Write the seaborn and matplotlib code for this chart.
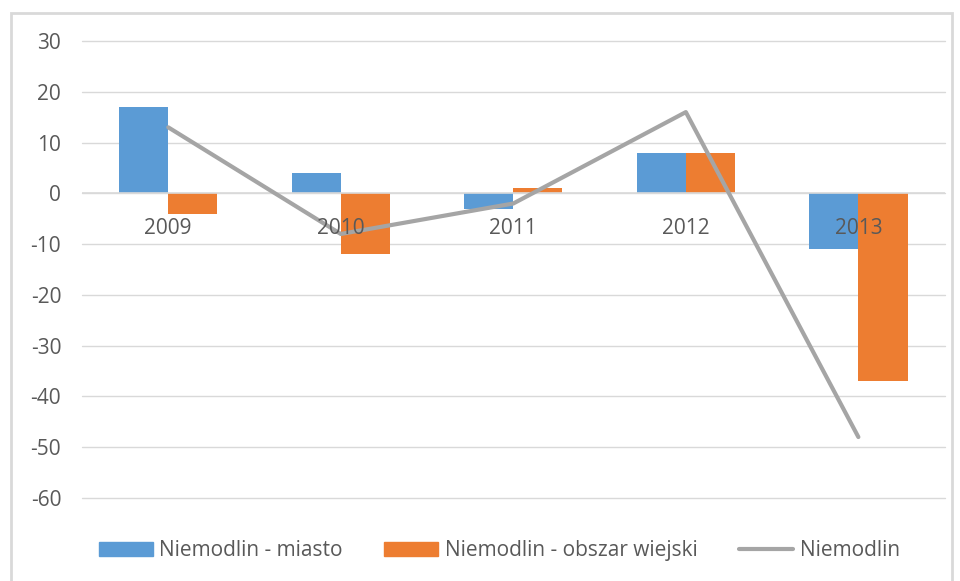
import numpy as np
import pandas as pd
import matplotlib.pyplot as plt
import seaborn as sns
from matplotlib.patches import Rectangle, Patch
from matplotlib.lines import Line2D

anos = ["2009", "2010", "2011", "2012", "2013"]
miasto = [17, 4, -3, 8, -11]
obszar_wiejski = [-4, -12, 1, 8, -37]
niemodlin = [13, -8, -2, 16, -48]
serie = ["Niemodlin - miasto", "Niemodlin - obszar wiejski"]
colores = {"Niemodlin - miasto": "#5b9bd5", "Niemodlin - obszar wiejski": "#ed7d31"}
color_linea = "#a5a5a5"

df = pd.DataFrame({
    "rok": anos * 2,
    "valor": miasto + obszar_wiejski,
    "serie": [serie[0]] * len(anos) + [serie[1]] * len(anos),
})

sns.set_style("white")
plt.rcParams['font.family'] = ['Open Sans', 'DejaVu Sans']
plt.rcParams['axes.unicode_minus'] = False
texto = "#595959"
fs = 15

fig = plt.figure(figsize=(9.6, 5.81), dpi=100)
ax = fig.add_axes([0.0854, 0.1429, 0.8986, 0.7865])

sns.barplot(data=df, x="rok", y="valor", hue="serie", hue_order=serie,
            palette=colores, width=0.57, saturation=1, linewidth=0,
            ax=ax, legend=False, zorder=3)
ax.axhline(0, color="#d9d9d9", linewidth=1.2, zorder=3.5)
sns.lineplot(x=np.arange(len(anos)), y=niemodlin, color=color_linea, linewidth=3,
             ax=ax, zorder=4)

ax.set_ylim(-60, 30)
ax.set_xlim(-0.5, len(anos) - 0.5)
ax.set_yticks(range(-60, 31, 10))
ax.yaxis.grid(True, color="#d9d9d9", linewidth=1)
for gl in ax.get_ygridlines():
    gl.set_clip_on(False)
ax.set_axisbelow(True)
sns.despine(ax=ax, left=True, bottom=True)
ax.tick_params(axis="both", length=0, labelsize=fs, labelcolor=texto)
ax.tick_params(axis="y", pad=15)
ax.set_xticklabels([])
for i, a in enumerate(anos):
    ax.annotate(a, (i, 0), xytext=(0, -25), textcoords="offset points",
                ha="center", va="center", fontsize=fs, color=texto, zorder=5)
ax.set_xlabel("")
ax.set_ylabel("")

handles = [Patch(color=colores[serie[0]]), Patch(color=colores[serie[1]]),
           Line2D([0], [0], color=color_linea, linewidth=3)]
fig.legend(handles, serie + ["Niemodlin"], loc="center", ncol=3,
           bbox_to_anchor=(0.52, 0.052), frameon=False, fontsize=fs,
           labelcolor=texto, handlelength=2.6, handleheight=0.6,
           handletextpad=0.3, columnspacing=2.0)

fig.patches.append(Rectangle((11 / 960, -0.02), 941 / 960, (581 - 13) / 581 + 0.02,
                             transform=fig.transFigure, fill=False,
                             edgecolor="#d9d9d9", linewidth=2))

plt.savefig("out.png", dpi=100)
plt.close(fig)
